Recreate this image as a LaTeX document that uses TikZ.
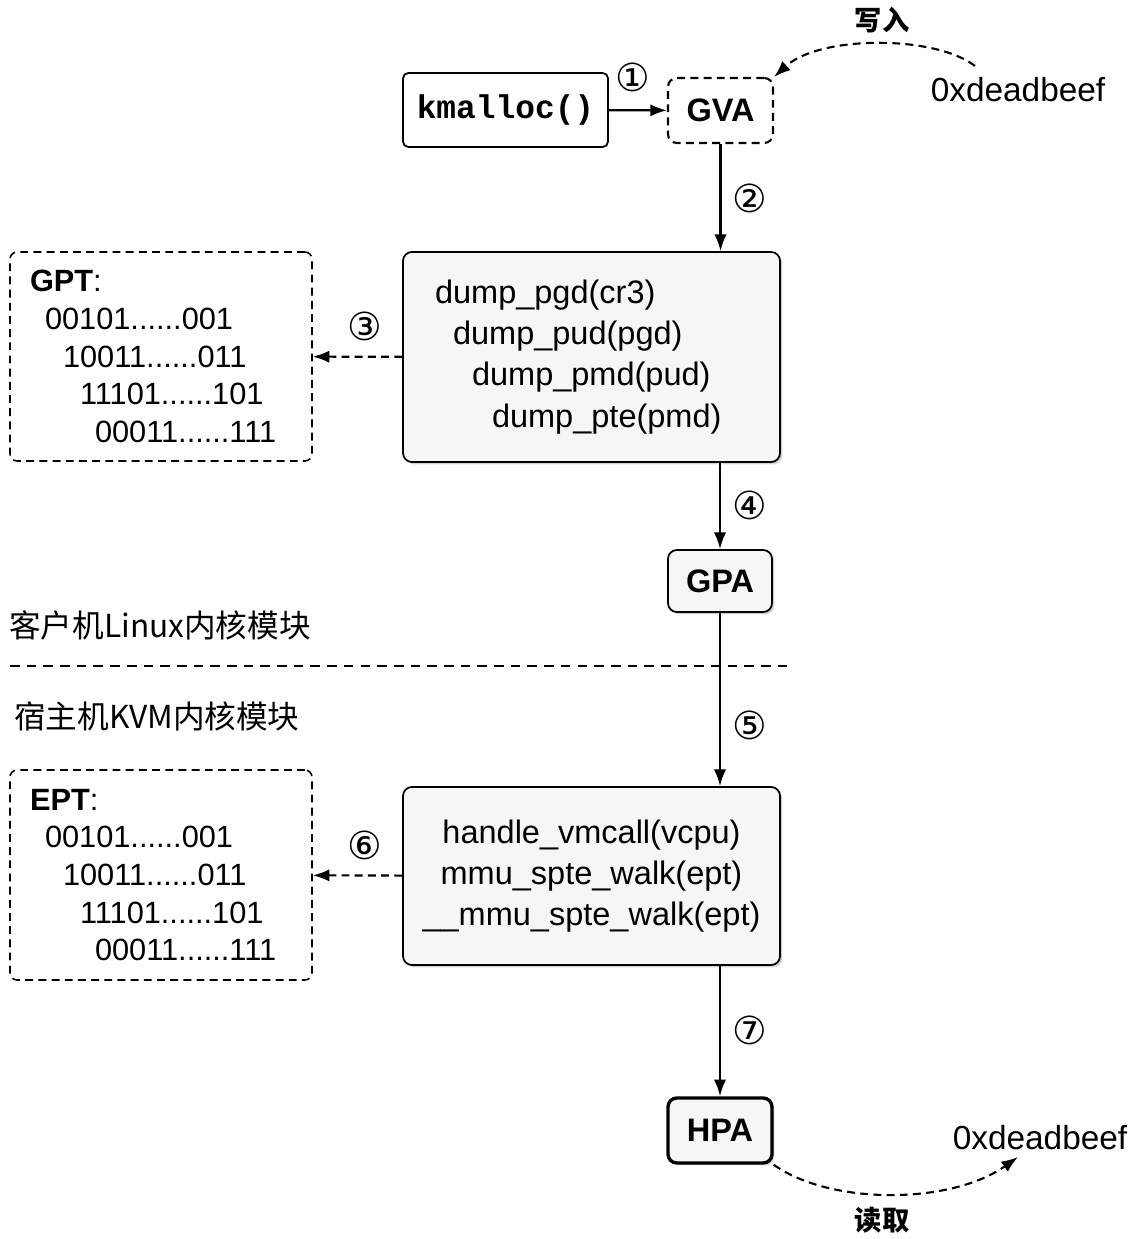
\documentclass[tikz,border=0pt]{standalone}
\usepackage{fontspec}
\setmainfont{Liberation Sans}
\setmonofont{Liberation Mono}
\newfontfamily\cjk{Noto Sans CJK SC}
\newfontfamily\circfont{DejaVu Sans}
\usetikzlibrary{arrows.meta,shadows}
\definecolor{boxgray}{HTML}{F6F6F6}
\newcommand{\circnum}[1]{{\circfont\fontsize{22}{22}\selectfont #1}}

\begin{document}
\begin{tikzpicture}[x=0.02cm, y=-0.02cm,
    >={Latex[length=9.5pt,width=7pt]},
    line/.style={line width=1.3pt},
    dashline/.style={line width=1.2pt, dash pattern=on 4.5pt off 3pt},
    shadowed/.style={drop shadow={shadow xshift=1.3pt, shadow yshift=-1.3pt, opacity=0.35}},
    graybox/.style={draw, line width=1pt, rounded corners=5pt, fill=boxgray, shadowed},
    tablebox/.style={draw, dashline, line width=0.9pt, rounded corners=4pt, fill=white, align=left, text width=5.24cm,
        inner xsep=0.4cm, minimum height=4.18cm, font=\fontsize{17.5}{21.4}\selectfont},
    addr/.style={font=\fontsize{18.5}{18.5}\selectfont\bfseries, inner sep=0pt},
    txt/.style={font=\fontsize{19}{19}\selectfont, inner sep=0pt},
    zh/.style={font=\cjk\fontsize{18}{18}\selectfont, inner sep=0pt},
    zhb/.style={font=\cjk\fontsize{15.5}{15.5}\selectfont\bfseries, inner sep=0pt},
    num/.style={inner sep=0pt}]
    \useasboundingbox (0,0) rectangle (1145,1239);

    % guest side
    \node[draw, line width=1pt, rounded corners=3pt, fill=white, minimum width=4.1cm, minimum height=1.48cm,
        font=\ttfamily\bfseries\fontsize{18.7}{18.7}\selectfont] (kmalloc) at (505.5,110) {kmalloc()};
    \node[draw, dashline, rounded corners=5pt, fill=white, minimum width=2.1cm, minimum height=1.3cm, addr] (gva) at (720.5,110.5) {GVA};
    \node[txt] (beefw) at (1018,90) {0xdeadbeef};
    \node[zhb] (write) at (882,20) {写入};

    \node[graybox, align=left, text width=6.26cm, inner xsep=0.64cm, minimum width=7.54cm, minimum height=4.2cm,
        font=\fontsize{18.5}{23.4}\selectfont] (walk1) at (591.5,357)
        {dump\_pgd(cr3)\\\hspace*{0.36cm}dump\_pud(pgd)\\\hspace*{0.74cm}dump\_pmd(pud)\\\hspace*{1.14cm}dump\_pte(pmd)};
    \node[tablebox] (gpt) at (161,356.5)
        {\textbf{GPT}:\\\hspace*{0.3cm}00101......001\\\hspace*{0.66cm}10011......011\\\hspace*{1.0cm}11101......101\\\hspace*{1.3cm}00011......111};

    \node[graybox, minimum width=2.08cm, minimum height=1.24cm, addr] (gpa) at (720,581) {GPA};

    % split
    \node[zh, anchor=west] (guest) at (9,625) {客户机Linux内核模块};
    \draw[line width=1.2pt, dash pattern=on 5.5pt off 4pt] (10,666) -- (790,666);
    \node[zh, anchor=west] (host) at (14,716) {宿主机KVM内核模块};

    % host side
    \node[graybox, align=center, minimum width=7.54cm, minimum height=3.56cm,
        font=\fontsize{18.5}{23.4}\selectfont] (walk2) at (591.5,876)
        {handle\_vmcall(vcpu)\\mmu\_spte\_walk(ept)\\\_\_mmu\_spte\_walk(ept)};
    \node[tablebox, minimum height=4.2cm] (ept) at (161,875)
        {\textbf{EPT}:\\\hspace*{0.3cm}00101......001\\\hspace*{0.66cm}10011......011\\\hspace*{1.0cm}11101......101\\\hspace*{1.3cm}00011......111};

    \node[graybox, line width=1.9pt, minimum width=2.08cm, minimum height=1.3cm, addr] (hpa) at (720,1130.5) {HPA};
    \node[txt] (beefr) at (1040,1138) {0xdeadbeef};
    \node[zhb] (read) at (882,1220) {读取};

    % steps
    \node[num] (n1) at (633,77) {\circnum{①}};
    \node[num] (n2) at (750,198) {\circnum{②}};
    \node[num] (n3) at (365,326) {\circnum{③}};
    \node[num] (n4) at (750,505) {\circnum{④}};
    \node[num] (n5) at (750,725) {\circnum{⑤}};
    \node[num] (n6) at (365,845) {\circnum{⑥}};
    \node[num] (n7) at (750,1030) {\circnum{⑦}};

    \draw[->, line] (kmalloc) -- (gva);
    \draw[->, line] (gva) -- (gva |- walk1.north);
    \draw[->, dashline] (walk1) -- (gpt);
    \draw[->, line] (gpa |- walk1.south) -- (gpa);
    \draw[->, line] (gpa) -- (gpa |- walk2.north);
    \draw[->, dashline] (walk2) -- (ept);
    \draw[->, line] (gpa |- walk2.south) -- (hpa);

    \coordinate (wfrom) at (975,66);
    \coordinate (rto) at (1018,1157);
    \draw[->, dashline] (wfrom) .. controls (935,35) and (820,35) .. (gva.north east);
    \draw[->, dashline] (hpa.south east) .. controls (830,1205) and (950,1205) .. (rto);
\end{tikzpicture}
\end{document}
